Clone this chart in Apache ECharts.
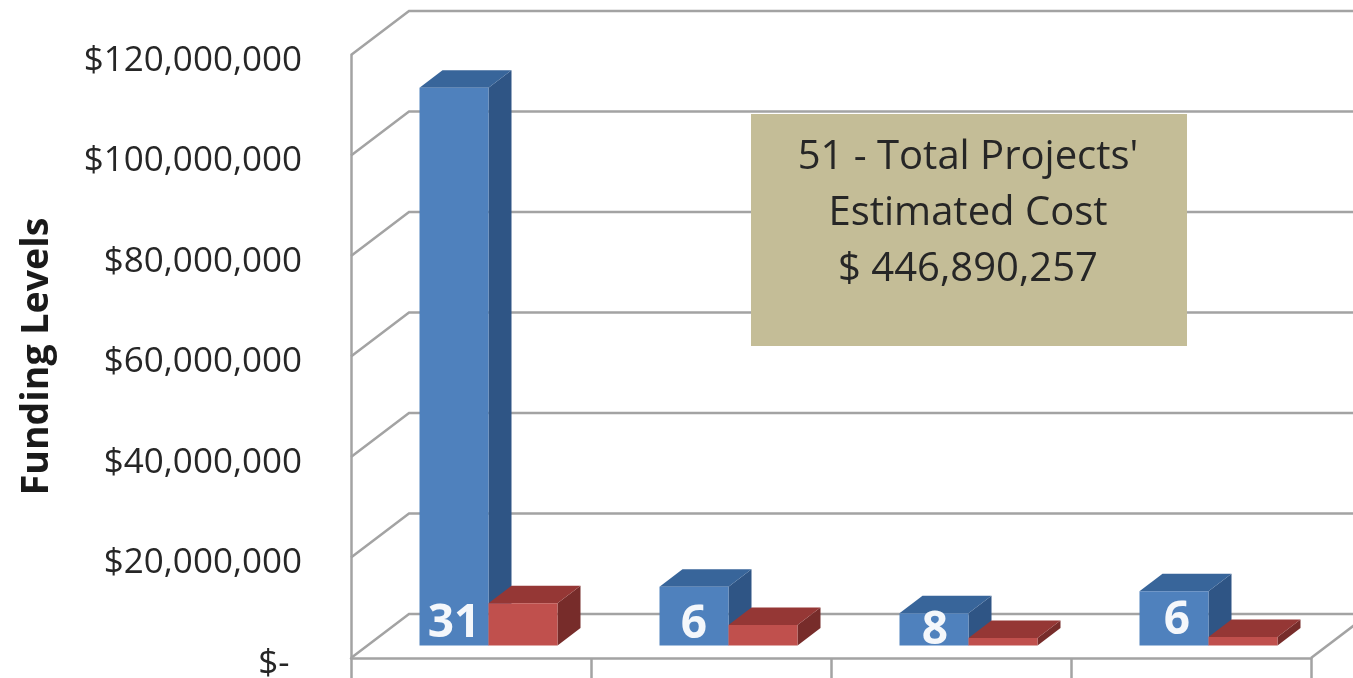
<!DOCTYPE html>
<html>
<head>
<meta charset="utf-8">
<style>html,body{margin:0;padding:0;background:#fff;overflow:hidden}#c{width:1353px;height:678px}</style>
<script src="https://cdn.jsdelivr.net/npm/echarts@6/dist/echarts.min.js"></script>
</head>
<body>
<div id="c"></div>
<script>
const categories = ['Group 1', 'Group 2', 'Group 3', 'Group 4'];
const estimatedCost = [111000000, 11700000, 6400000, 10800000];
const fundedAmount = [8400000, 4100000, 1500000, 1700000];
const projectCounts = ['31', '6', '8', '6'];
const axisTicks = [0, 20000000, 40000000, 60000000, 80000000, 100000000, 120000000];
const tickLabels = ['$- \u200a', '$20,000,000', '$40,000,000', '$60,000,000', '$80,000,000', '$100,000,000', '$120,000,000'];
const calloutLines = ["51 - Total Projects'", 'Estimated Cost', '$ 446,890,257'];
const axisTitle = 'Funding Levels';

const FONT = '"Open Sans", "Noto Sans", sans-serif';
const GRID = '#a3a3a3';
const WALL_DX = 58, WALL_DY = -44;          // full depth of the chart box
const BAR_DX = 23, BAR_DY = -17.5;          // depth of one bar
const BASE_DX = 17.5, BASE_DY = -12.5;      // bar front sits part way into the box
const BAR_WIDTH = 0.2875;                   // share of a category band
const LABEL_NUDGE = [[-34, -22], [-34, -21], [-33, -15], [-31, -25]];

function renderGrid(params, api) {
  const y = api.coord([0, api.value(1)])[1];
  const cs = params.coordSys;
  const left = cs.x, right = cs.x + cs.width;
  const pts = [[left, y], [left + WALL_DX, y + WALL_DY], [right + WALL_DX, y + WALL_DY]];
  const children = [{
    type: 'polyline', shape: { points: pts },
    style: { stroke: GRID, lineWidth: 2.5, fill: 'none' }
  }];
  if (api.value(1) === 0) {
    children.push({
      type: 'line',
      shape: { x1: right, y1: y, x2: right + WALL_DX, y2: y + WALL_DY },
      style: { stroke: GRID, lineWidth: 2.5 }
    });
  }
  return { type: 'group', children };
}

function makeBar(side, front, top, sideCol) {
  return function (params, api) {
    const i = api.value(0), v = api.value(1);
    const band = api.size([1, 0])[0];
    const w = band * BAR_WIDTH;
    const c0 = api.coord([i, 0]), c1 = api.coord([i, v]);
    const x0 = c0[0] + BASE_DX + (side === 0 ? -w : 0);
    const x1 = x0 + w;
    const yb = c0[1] + BASE_DY, yt = c1[1] + BASE_DY;
    const children = [
      { type: 'polygon', shape: { points: [[x1, yb], [x1 + BAR_DX, yb + BAR_DY], [x1 + BAR_DX, yt + BAR_DY], [x1, yt]] }, style: { fill: sideCol } },
      { type: 'polygon', shape: { points: [[x0, yt], [x0 + BAR_DX, yt + BAR_DY], [x1 + BAR_DX, yt + BAR_DY], [x1, yt]] }, style: { fill: top } },
      { type: 'rect', shape: { x: x0, y: yt, width: w, height: yb - yt }, style: { fill: front } }
    ];
    if (side === 0) {
      const n = LABEL_NUDGE[i];
      children.push({
        type: 'text',
        style: {
          x: c0[0] + 17 + n[0], y: c0[1] + BASE_DY + n[1],
          text: projectCounts[i], fill: '#f4f7fb',
          font: 'bold 46px ' + FONT, align: 'center', verticalAlign: 'middle'
        }
      });
    }
    return { type: 'group', children };
  };
}

const chart = echarts.init(document.getElementById('c'), null, { renderer: 'canvas' });
chart.setOption({
  animation: false,
  backgroundColor: '#ffffff',
  grid: { left: 351, right: 42, top: 55, bottom: 20, outerBoundsMode: 'none' },
  xAxis: {
    type: 'category', data: categories,
    axisLine: { lineStyle: { color: GRID, width: 2.5 } },
    axisTick: { show: true, length: 22, lineStyle: { color: GRID, width: 2.5 } },
    axisLabel: { show: false }, splitLine: { show: false }
  },
  yAxis: {
    type: 'value', min: 0, max: 120000000, interval: 20000000,
    name: axisTitle, nameLocation: 'middle', nameGap: 295, nameRotate: 90,
    nameTextStyle: { fontFamily: FONT, fontWeight: 'bold', fontSize: 37.5, color: '#1a1a1a' },
    axisLine: { show: true, lineStyle: { color: GRID, width: 2.5 } },
    axisTick: { show: false }, splitLine: { show: false },
    axisLabel: {
      margin: 49, fontFamily: FONT, fontSize: 35, color: '#262626',
      verticalAlign: 'top', lineHeight: 12,
      formatter: (v) => tickLabels[axisTicks.indexOf(v)]
    }
  },
  series: [
    { type: 'custom', name: 'Grid', renderItem: renderGrid, encode: { x: 0, y: 1 }, z: 1, silent: true,
      data: axisTicks.map(v => [0, v]) },
    { type: 'custom', name: 'Estimated cost', renderItem: makeBar(0, '#4f81bd', '#38659a', '#2f5585'), encode: { x: 0, y: 1 }, z: 3,
      data: estimatedCost.map((v, i) => [i, v]) },
    { type: 'custom', name: 'Funded', renderItem: makeBar(1, '#c0504d', '#953735', '#772c2a'), encode: { x: 0, y: 1 }, z: 4,
      data: fundedAmount.map((v, i) => [i, v]) }
  ],
  graphic: [
    { type: 'rect', z: 10, shape: { x: 751, y: 114, width: 436, height: 232 }, style: { fill: '#c4bd97' } },
    { type: 'text', z: 11, style: {
        x: 968, y: 214, text: calloutLines.join('\n'), fill: '#262626',
        font: '40px ' + FONT, lineHeight: 56, align: 'center', verticalAlign: 'middle'
      } }
  ]
});
</script>
</body>
</html>
